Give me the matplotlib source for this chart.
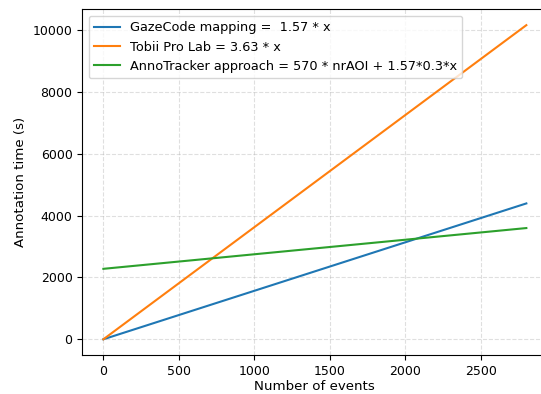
import matplotlib
matplotlib.use("Agg")
import matplotlib.pyplot as plt

# end points of each straight line
events = [0, 2800]
gazecode_time = [0, 4396]
tobii_time = [0, 10164]
annotracker_time = [2280, 3599]

labels = [
    "GazeCode mapping =  1.57 * x",
    "Tobii Pro Lab = 3.63 * x",
    "AnnoTracker approach = 570 * nrAOI + 1.57*0.3*x",
]

fig, ax = plt.subplots(figsize=(5.41, 3.94), dpi=100)
ax.plot(events, gazecode_time, label=labels[0])
ax.plot(events, tobii_time, label=labels[1])
ax.plot(events, annotracker_time, label=labels[2])
ax.set_xlabel("Number of events", fontsize=9.6, labelpad=2)
ax.set_ylabel("Annotation time (s)", fontsize=9.6)
ax.tick_params(labelsize=9)
ax.grid(True, linestyle="--", alpha=0.4)
ax.legend(loc="upper left", fontsize=9.3)
fig.subplots_adjust(left=0.152, right=1.012, bottom=0.099, top=0.976)
fig.savefig("out.png")
